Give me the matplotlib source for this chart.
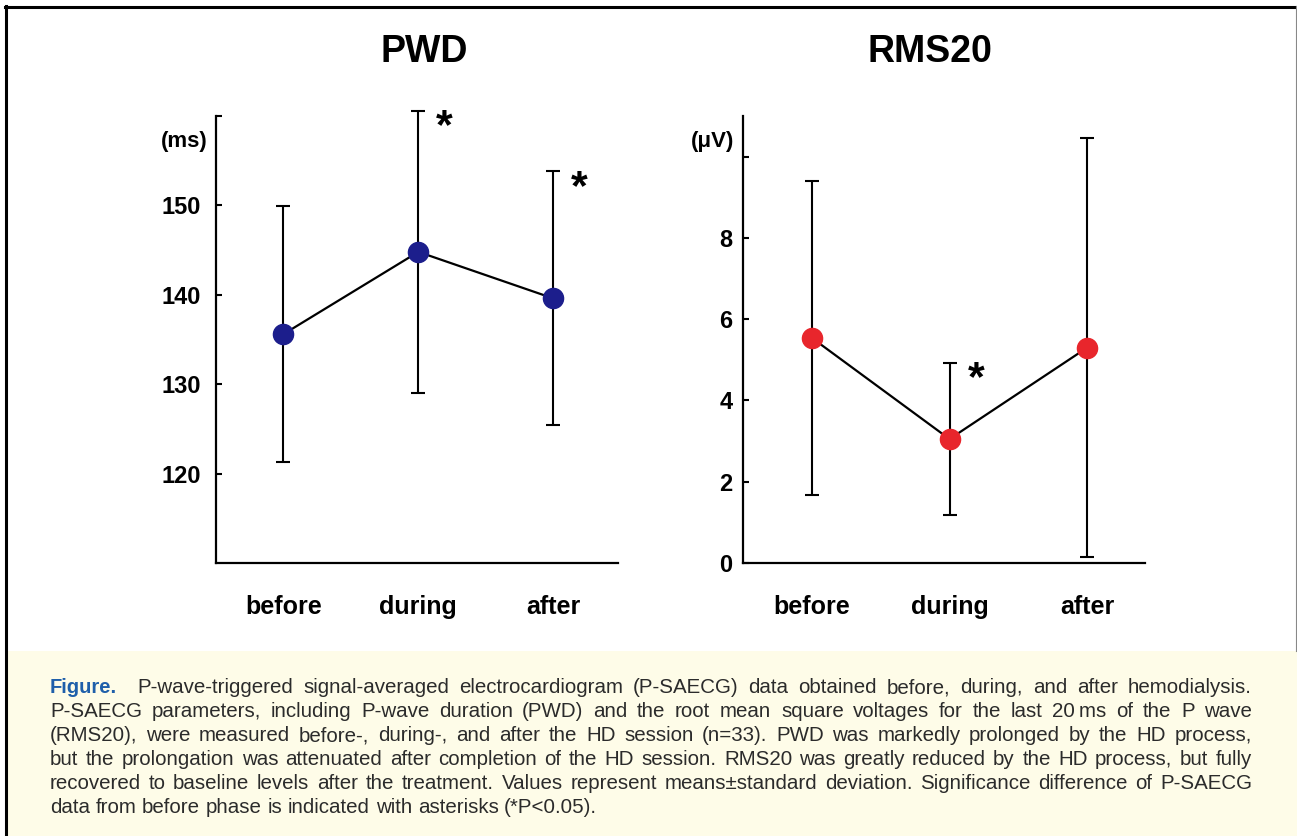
import matplotlib
matplotlib.use('Agg')
import matplotlib.pyplot as plt
from matplotlib.patches import Rectangle
from matplotlib.lines import Line2D

# ---------------- data ----------------
categories = ['before', 'during', 'after']
pwd_mean = [135.6, 144.8, 139.6]
pwd_sd = [14.3, 15.8, 14.2]
rms_mean = [5.54, 3.05, 5.30]
rms_sd = [3.86, 1.88, 5.16]
pwd_sig = [False, True, True]
rms_sig = [False, True, False]
pwd_ticks = [120, 130, 140, 150, 160]
pwd_ticklabels = ['120', '130', '140', '150', '']
rms_ticks = [0, 2, 4, 6, 8, 10]
rms_ticklabels = ['0', '2', '4', '6', '8', '']

caption_lines = [
    "P-wave-triggered signal-averaged electrocardiogram (P-SAECG) data obtained before, during, and after hemodialysis.",
    "P-SAECG parameters, including P-wave duration (PWD) and the root mean square voltages for the last 20\u2009ms of the P wave",
    "(RMS20), were measured before-, during-, and after the HD session (n=33). PWD was markedly prolonged by the HD process,",
    "but the prolongation was attenuated after completion of the HD session. RMS20 was greatly reduced by the HD process, but fully",
    "recovered to baseline levels after the treatment. Values represent means\u00b1standard deviation. Significance difference of P-SAECG",
    "data from before phase is indicated with asterisks (*P<0.05).",
]

W, H = 1297, 836
fig = plt.figure(figsize=(W / 100, H / 100), dpi=100)
fig.patch.set_facecolor('white')

BOLD = dict(family=['Liberation Sans', 'DejaVu Sans'], weight='bold')


def px_x(x):
    return x / W


def px_y(y):
    return 1 - y / H


def make_panel(left_px, xlim, ylim, means, sds, sig, ticks, ticklabels,
               color, title, title_x, unit, pad):
    ax = fig.add_axes([px_x(left_px), px_y(563), 402 / W, (563 - 116) / H])
    x = list(range(len(categories)))
    ax.errorbar(x, means, yerr=sds, fmt='none', ecolor='black',
                elinewidth=1.5, capsize=5, capthick=1.5, zorder=2, clip_on=False)
    ax.plot(x, means, color='black', lw=1.6, zorder=3)
    ax.plot(x, means, 'o', color=color, markersize=14.5, zorder=4, clip_on=False)
    ax.set_xlim(*xlim)
    ax.set_ylim(*ylim)
    ax.set_xticks(x)
    ax.set_xticklabels(categories, fontsize=18, **BOLD)
    ax.tick_params(axis='x', length=0, pad=23)
    ax.set_yticks(ticks)
    ax.set_yticklabels(ticklabels, fontsize=17, **BOLD)
    ax.tick_params(axis='y', direction='in', length=4, width=1.5, pad=pad)
    for s in ['top', 'right']:
        ax.spines[s].set_visible(False)
    for s in ['left', 'bottom']:
        ax.spines[s].set_linewidth(1.6)
    ax.text(title_x, 1.143, title, transform=ax.transAxes, ha='center',
            va='center', fontsize=27, **BOLD)
    ax.text(-0.022, 0.942, unit, transform=ax.transAxes, ha='right',
            va='center', fontsize=16, **BOLD)
    for xi, m, s, g in zip(x, means, sds, sig):
        if g:
            ax.annotate('*', xy=(xi, m + s), xytext=(19, -20),
                        textcoords='offset points', ha='center', va='baseline',
                        fontsize=31, annotation_clip=False, **BOLD)
    return ax


make_panel(216, (-0.5, 2.48), (110, 160), pwd_mean, pwd_sd, pwd_sig,
           pwd_ticks, pwd_ticklabels, '#1c1e8c', 'PWD', 0.517, '(ms)', 11)
make_panel(743, (-0.5, 2.42), (0, 11), rms_mean, rms_sd, rms_sig,
           rms_ticks, rms_ticklabels, '#e8262c', 'RMS20', 0.465, '(\u03bcV)', 7.5)

# ---------------- caption box & frame ----------------
fig.patches.append(Rectangle((px_x(7), 0), 1 - px_x(7), px_y(651),
                             transform=fig.transFigure, facecolor='#fefce8',
                             edgecolor='none', zorder=0))
fig.lines.append(Line2D([px_x(6), px_x(6)], [0, px_y(6)], transform=fig.transFigure,
                        color='black', lw=2.2))
fig.lines.append(Line2D([px_x(5), 1], [px_y(7), px_y(7)], transform=fig.transFigure,
                        color='black', lw=2.2))
fig.lines.append(Line2D([px_x(1295.5), px_x(1295.5)], [px_y(651), px_y(6)],
                        transform=fig.transFigure, color='#888888', lw=0.8))

# ---------------- justified caption ----------------
renderer = fig.canvas.get_renderer()
CAP = dict(family=['Liberation Sans', 'DejaVu Sans'], fontsize=14.8, color='#2b2b2b')
x0, x1 = 50, 1252
base0, lead = 693, 24

fig_t = fig.text(px_x(x0), px_y(base0), 'Figure.', fontsize=14.5, color='#1f5faa',
                 family=['Liberation Sans Narrow', 'Liberation Sans', 'DejaVu Sans'],
                 weight='bold', va='baseline', ha='left')
fw = fig_t.get_window_extent(renderer).width

for i, line in enumerate(caption_lines):
    words = line.split(' ')
    start = x0 + (fw + 20 if i == 0 else 0)
    y = px_y(base0 + i * lead)
    texts = [fig.text(0, y, w, va='baseline', ha='left', **CAP) for w in words]
    widths = [t.get_window_extent(renderer).width for t in texts]
    total = sum(widths)
    natural = CAP['fontsize'] * 100 / 72 * 0.278
    if i < len(caption_lines) - 1 and len(words) > 1:
        gap = (x1 - start - total) / (len(words) - 1)
    else:
        gap = natural
    cur = start
    for t, w in zip(texts, widths):
        t.set_x(px_x(round(cur)))
        cur += w + gap

fig.savefig('out.png', dpi=100)
